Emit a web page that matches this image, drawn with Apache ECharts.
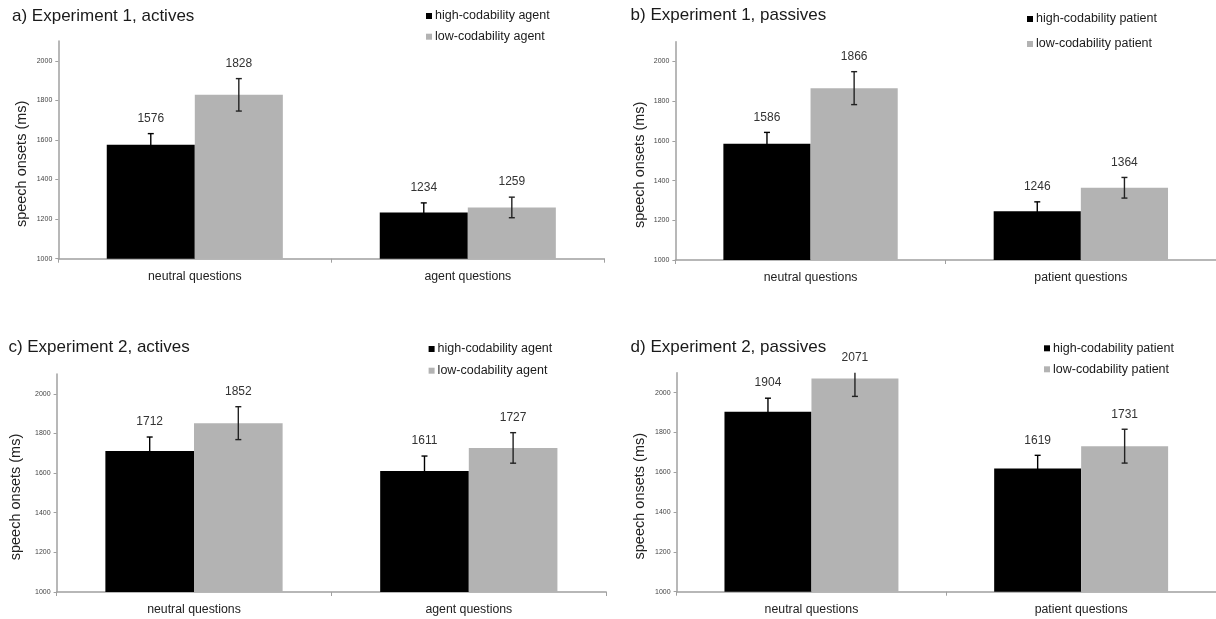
<!DOCTYPE html>
<html><head><meta charset="utf-8">
<script src="https://cdn.jsdelivr.net/npm/echarts@6/dist/echarts.min.js"></script>
<style>html,body{margin:0;padding:0;background:#fff}#c{width:1216px;height:619px}</style>
</head><body><div id="c"></div>
<script>
// ---- data ----
const panelTitles = ['a) Experiment 1, actives', 'b) Experiment 1, passives', 'c) Experiment 2, actives', 'd) Experiment 2, passives'];
const categoriesActive = ['neutral questions', 'agent questions'];
const categoriesPassive = ['neutral questions', 'patient questions'];
const legendAgent = ['high-codability agent', 'low-codability agent'];
const legendPatient = ['high-codability patient', 'low-codability patient'];
const yTicks = [1000, 1200, 1400, 1600, 1800, 2000];
const yAxisName = 'speech onsets (ms)';

const exp1ActHigh = [1576, 1234], exp1ActLow = [1828, 1259];
const exp1ActHighErr = [56, 48], exp1ActLowErr = [82, 52];
const exp1PasHigh = [1586, 1246], exp1PasLow = [1866, 1364];
const exp1PasHighErr = [57, 47], exp1PasLowErr = [83, 52];
const exp2ActHigh = [1712, 1611], exp2ActLow = [1852, 1727];
const exp2ActHighErr = [70, 75], exp2ActLowErr = [83, 77];
const exp2PasHigh = [1904, 1619], exp2PasLow = [2071, 1731];
const exp2PasHighErr = [68, 66], exp2PasLowErr = [90, 85];

// ---- layout ----
const Y_MIN = 1000, Y_MAX = 2100;
const GAP = 0.355;
const panels = [
  {title: panelTitles[0], cats: categoriesActive, names: legendAgent, hi: exp1ActHigh, lo: exp1ActLow, hiE: exp1ActHighErr, loE: exp1ActLowErr,
   grid: {left: 58.3, top: 41, width: 546, height: 217.7}, tpos: [12, 16], lpos: [426, 16], lgap: 20.7, nameGap: 29},
  {title: panelTitles[1], cats: categoriesPassive, names: legendPatient, hi: exp1PasHigh, lo: exp1PasLow, hiE: exp1PasHighErr, loE: exp1PasLowErr,
   grid: {left: 675.4, top: 41.7, width: 548.6, height: 218.3}, tpos: [630.6, 15.7], lpos: [1027, 19], lgap: 25, nameGap: 28},
  {title: panelTitles[2], cats: categoriesActive, names: legendAgent, hi: exp2ActHigh, lo: exp2ActLow, hiE: exp2ActHighErr, loE: exp2ActLowErr,
   grid: {left: 56.6, top: 374, width: 549.6, height: 218}, tpos: [8.4, 347.7], lpos: [428.6, 349], lgap: 21.7, nameGap: 33},
  {title: panelTitles[3], cats: categoriesPassive, names: legendPatient, hi: exp2PasHigh, lo: exp2PasLow, hiE: exp2PasHighErr, loE: exp2PasLowErr,
   grid: {left: 676.6, top: 372.7, width: 546, height: 219}, tpos: [630.6, 347.3], lpos: [1044, 348.3], lgap: 21, nameGap: 29}
];

const SANS = '"Liberation Sans", Arial, sans-serif';

function renderErr(params, api) {
  const i = api.value(0), v = api.value(1), e = api.value(2), slot = api.value(3);
  const band = api.size([1, 0])[0];
  const bw = band * (1 - GAP) / 2;
  const cx = api.coord([i, v])[0] + (slot === 0 ? -bw / 2 : bw / 2);
  const yLim = api.coord([i, Y_MAX])[1];
  let yt = api.coord([i, v + e])[1];
  const yb = api.coord([i, v - e])[1];
  const clipped = yt < yLim;
  if (clipped) yt = yLim;
  const st = {stroke: slot === 0 ? '#000' : '#222', lineWidth: 1.4};
  const ch = [
    {type: 'line', shape: {x1: cx, y1: yt, x2: cx, y2: yb}, style: st},
    {type: 'line', shape: {x1: cx - 3, y1: yb, x2: cx + 3, y2: yb}, style: st}
  ];
  if (!clipped) ch.push({type: 'line', shape: {x1: cx - 3, y1: yt, x2: cx + 3, y2: yt}, style: st});
  ch.push({type: 'text', style: {text: String(v), x: cx, y: yt - 15, align: 'center', verticalAlign: 'middle',
    fontFamily: SANS, fontSize: 12, fill: '#333'}});
  return {type: 'group', children: ch};
}

const option = {animation: false, backgroundColor: '#fff', title: [], legend: [], grid: [], xAxis: [], yAxis: [], series: []};

panels.forEach((p, k) => {
  option.title.push({text: p.title, left: p.tpos[0], top: p.tpos[1] - 9, padding: 0,
    textStyle: {fontFamily: SANS, fontSize: 17, fontWeight: 'normal', color: '#1a1a1a', lineHeight: 18}});
  option.legend.push({data: p.names, orient: 'vertical', left: p.lpos[0], top: p.lpos[1] - 7.5, padding: 0,
    itemGap: p.lgap - 15, itemWidth: 6, itemHeight: 6, icon: 'rect', selectedMode: false,
    textStyle: {fontFamily: SANS, fontSize: 12.5, color: '#1a1a1a', lineHeight: 15, padding: [0, 0, 0, -2]}});
  option.grid.push(Object.assign({containLabel: false}, p.grid));
  option.xAxis.push({type: 'category', gridIndex: k, data: p.cats,
    axisLine: {lineStyle: {color: '#a0a0a0', width: 1.5}},
    axisTick: {show: true, length: 4, lineStyle: {color: '#a0a0a0', width: 1}},
    axisLabel: {fontFamily: SANS, fontSize: 12.3, color: '#222', margin: 12},
    splitLine: {show: false}});
  option.yAxis.push({type: 'value', gridIndex: k, min: Y_MIN, max: Y_MAX, interval: 200,
    name: yAxisName, nameLocation: 'middle', nameGap: p.nameGap,
    nameTextStyle: {fontFamily: SANS, fontSize: 14.5, color: '#222', padding: [0, 28, 0, 0]},
    axisLine: {show: true, lineStyle: {color: '#a0a0a0', width: 1.5}},
    axisTick: {show: true, length: 3, lineStyle: {color: '#a0a0a0'}},
    axisLabel: {fontFamily: SANS, fontSize: 7, color: '#444', margin: 6, showMaxLabel: false,
      formatter: v => (yTicks.indexOf(v) >= 0 ? String(v) : '')},
    splitLine: {show: false}});
  option.series.push({type: 'bar', name: p.names[0], xAxisIndex: k, yAxisIndex: k, data: p.hi,
    barGap: '0%', barCategoryGap: (GAP * 100) + '%', itemStyle: {color: '#000'}});
  option.series.push({type: 'bar', name: p.names[1], xAxisIndex: k, yAxisIndex: k, data: p.lo,
    barGap: '0%', barCategoryGap: (GAP * 100) + '%', itemStyle: {color: '#b3b3b3'}});
  const errData = [];
  p.hi.forEach((v, i) => errData.push([i, v, p.hiE[i], 0]));
  p.lo.forEach((v, i) => errData.push([i, v, p.loE[i], 1]));
  option.series.push({type: 'custom', xAxisIndex: k, yAxisIndex: k, data: errData, renderItem: renderErr,
    encode: {x: 0, y: 1}, clip: false, z: 5, silent: true});
});

const chart = echarts.init(document.getElementById('c'), null, {renderer: 'canvas'});
chart.setOption(option);
</script></body></html>
